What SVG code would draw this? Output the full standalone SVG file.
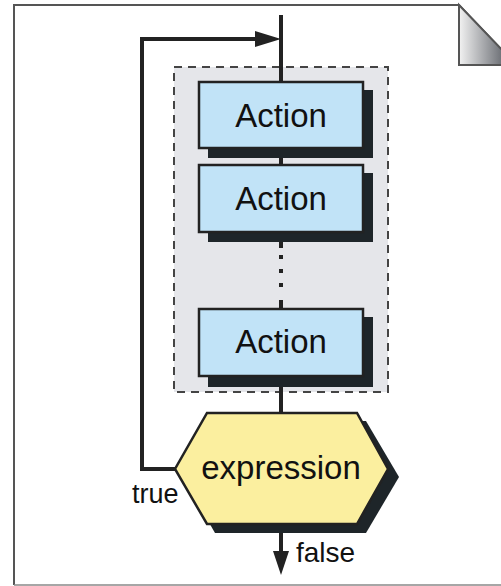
<svg xmlns="http://www.w3.org/2000/svg" width="501" height="586" viewBox="0 0 501 586">
<style>
.box{fill:#c1e3f7;stroke:#222;stroke-width:2.5}
.shadow{fill:#1e2529}
.lbl{font-family:"Liberation Sans",Arial,sans-serif;fill:#111}
.act{font-size:33px;text-anchor:middle}
.line{stroke:#222;stroke-width:4;fill:none}
.head{fill:#222}
</style>
<defs>
<linearGradient id="fold" x1="0" y1="0" x2="1" y2="0">
<stop offset="0" stop-color="#f2f2f2"/>
<stop offset="1" stop-color="#6c6f75"/>
</linearGradient>
</defs>
<g id="page">
<path d="M14,585 L14,5 L459,5 L503,51" fill="#fff" stroke="#555" stroke-width="2"/>
<path d="M14,585 L503,585" stroke="#888" stroke-width="1.5"/>
<path d="M459,5 L459,65 L503,65 L503,51 Z" fill="url(#fold)" stroke="#555" stroke-width="2"/>
</g>
<g id="group">
<rect x="174" y="67" width="214" height="325" fill="#e5e6ea" stroke="#444" stroke-width="2" stroke-dasharray="8,6"/>
</g>
<g id="connectors">
<line class="line" x1="281" y1="15" x2="281" y2="82"/>
<path class="line" d="M175,469 L142,469 L142,39 L258,39"/>
<polygon class="head" points="255,31 281,39 255,47"/>
<line class="line" x1="281" y1="158" x2="281" y2="165"/>
<line class="line" x1="281" y1="242" x2="281" y2="248"/>
<line class="line" x1="281" y1="255" x2="281" y2="292" stroke-dasharray="4,10"/>
<line class="line" x1="281" y1="300" x2="281" y2="309"/>
<line class="line" x1="281" y1="387" x2="281" y2="413"/>
<line class="line" x1="281" y1="533" x2="281" y2="553"/>
<polygon class="head" points="273,551 289,551 281,575"/>
</g>
<g id="action1">
<rect class="shadow" x="208" y="90" width="165" height="68"/>
<rect class="box" x="199" y="82" width="164" height="66"/>
<text class="lbl act" x="281" y="127">Action</text>
</g>
<g id="action2">
<rect class="shadow" x="208" y="173" width="165" height="69"/>
<rect class="box" x="199" y="165" width="164" height="67"/>
<text class="lbl act" x="281" y="210">Action</text>
</g>
<g id="action3">
<rect class="shadow" x="208" y="317" width="165" height="70"/>
<rect class="box" x="199" y="309" width="164" height="67"/>
<text class="lbl act" x="281" y="353">Action</text>
</g>
<g id="expression">
<polygon class="shadow" points="215,421 366,421 399,477 366,533 215,533 183,477"/>
<polygon points="207,413 357,413 388,469 357,524 207,524 175,469" fill="#fbef9f" stroke="#222" stroke-width="2.5"/>
<text class="lbl" x="281" y="479" font-size="33" text-anchor="middle">expression</text>
</g>
<text class="lbl" x="132" y="503" font-size="27">true</text>
<text class="lbl" x="296" y="562" font-size="28">false</text>
</svg>
